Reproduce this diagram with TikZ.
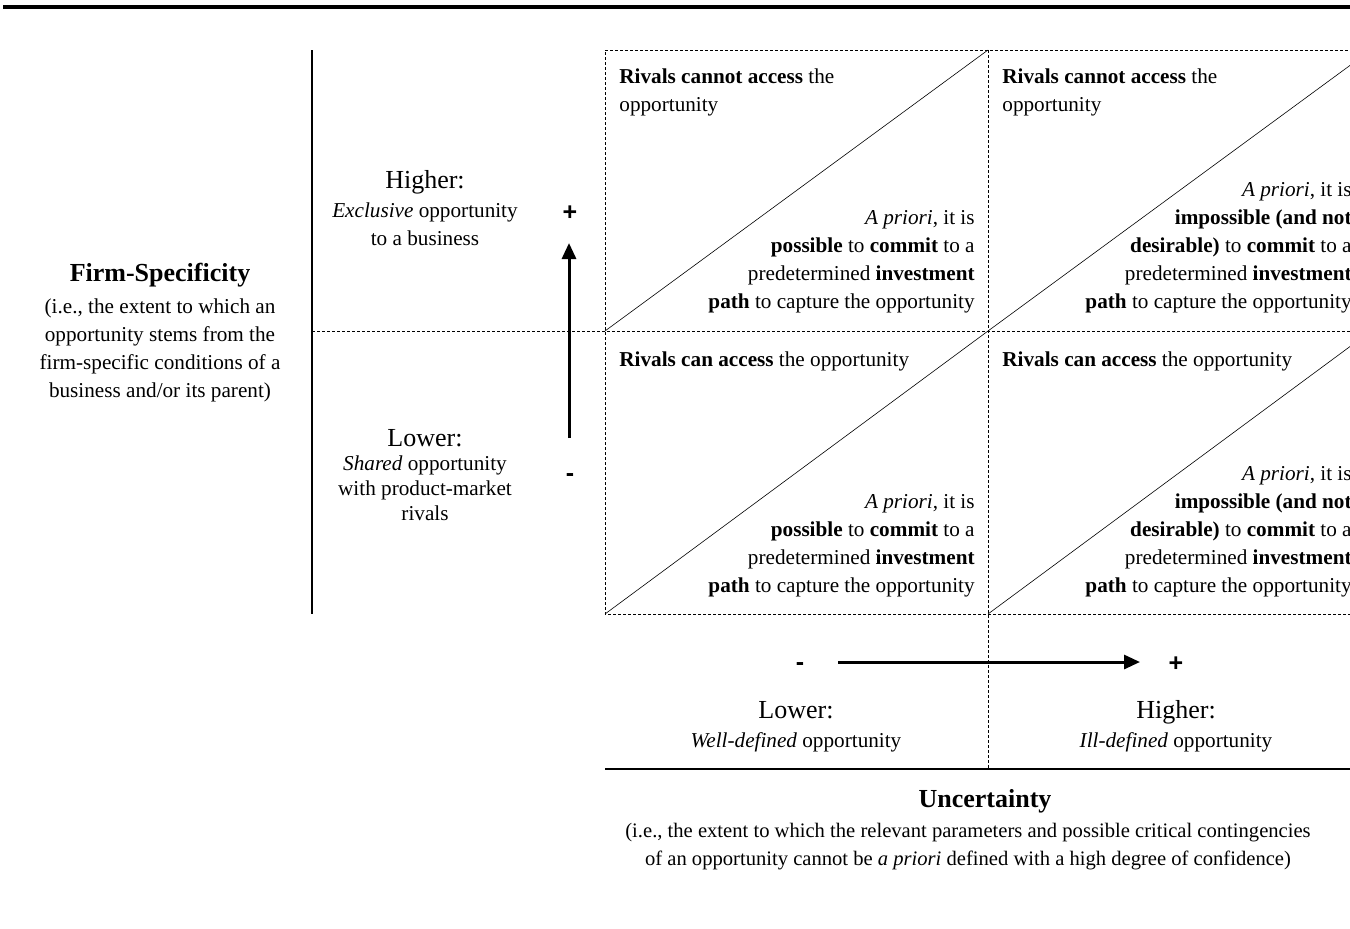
\documentclass[tikz,border=0pt]{standalone}
\usepackage{fontspec}
\setmainfont{Liberation Serif}
\newfontfamily\signfont{Liberation Sans}
\usetikzlibrary{arrows.meta}

\begin{document}
\begin{tikzpicture}[x=0.5pt,y=-0.5pt,
    cell/.style={inner sep=0,font=\fontsize{10.6}{14}\selectfont},
    level/.style={inner sep=0,font=\fontsize{13}{14}\selectfont},
    dimtitle/.style={inner sep=0,font=\bfseries\fontsize{13}{14}\selectfont},
    sign/.style={inner sep=0,anchor=base,font=\signfont\bfseries\fontsize{12.5}{13}\selectfont},
    grid/.style={line width=0.5pt,dash pattern=on 1.5pt off 1pt},
    diag/.style={line width=0.3pt},
    axis/.style={line width=1.5pt,-{Triangle[length=8pt,width=7pt]}}]
    \useasboundingbox (0,0) rectangle (1350,928);
    \clip (0,0) rectangle (1350,928);
    % frame lines
    \coordinate (rulel) at (3,7);
    \coordinate (ruler) at (1350,7);
    \coordinate (sidet) at (312,50);
    \coordinate (sideb) at (312,614);
    \coordinate (footl) at (605,769);
    \coordinate (footr) at (1350,769);
    \draw[line width=2pt] (rulel) -- (ruler);
    \draw[line width=1pt] (sidet) -- (sideb);
    \draw[line width=1.2pt] (footl) -- (footr);
    % grid
    \coordinate (gtl) at (605,50);
    \coordinate (gtm) at (988,50);
    \coordinate (gtr) at (1371,50);
    \coordinate (gml) at (605,331);
    \coordinate (gmm) at (988,331);
    \coordinate (gmr) at (1371,331);
    \coordinate (gbl) at (605,614);
    \coordinate (gbm) at (988,614);
    \coordinate (gbr) at (1371,614);
    \coordinate (gaxl) at (312,331);
    \coordinate (gfoot) at (988,768);
    \draw[grid] (gtl) -- (gtr) -- (gbr) -- (gbl) -- cycle;
    \draw[grid] (gaxl) -- (gmr);
    \draw[grid] (gtm) -- (gfoot);
    \draw[diag] (gml) -- (gtm);
    \draw[diag] (gmm) -- (gtr);
    \draw[diag] (gbl) -- (gmm);
    \draw[diag] (gbm) -- (gmr);
    % cells (multi-line nodes sit on their last baseline)
    \node[cell,anchor=base west,align=left] (ulrivals) at (619,111) {\textbf{Rivals cannot access} the\\opportunity};
    \node[cell,anchor=base east,align=right] (ulcommit) at (975,308) {\textit{A priori}, it is\\\textbf{possible} to \textbf{commit} to a\\predetermined \textbf{investment}\\\textbf{path} to capture the opportunity};
    \node[cell,anchor=base west,align=left] (urrivals) at (1002,111) {\textbf{Rivals cannot access} the\\opportunity};
    \node[cell,anchor=base east,align=right] (urcommit) at (1352,308) {\textit{A priori}, it is\\\textbf{impossible (and not}\\\textbf{desirable)} to \textbf{commit} to a\\predetermined \textbf{investment}\\\textbf{path} to capture the opportunity};
    \node[cell,anchor=base west] (llrivals) at (619,366) {\textbf{Rivals can access} the opportunity};
    \node[cell,anchor=base east,align=right] (llcommit) at (975,592) {\textit{A priori}, it is\\\textbf{possible} to \textbf{commit} to a\\predetermined \textbf{investment}\\\textbf{path} to capture the opportunity};
    \node[cell,anchor=base west] (lrrivals) at (1002,366) {\textbf{Rivals can access} the opportunity};
    \node[cell,anchor=base east,align=right] (lrcommit) at (1352,592) {\textit{A priori}, it is\\\textbf{impossible (and not}\\\textbf{desirable)} to \textbf{commit} to a\\predetermined \textbf{investment}\\\textbf{path} to capture the opportunity};
    % firm-specificity axis
    \node[dimtitle,anchor=base] (firm) at (160,281) {Firm-Specificity};
    \node[cell,anchor=base,align=center] (firmtxt) at (160,397) {(i.e., the extent to which an\\opportunity stems from the\\firm-specific conditions of a\\business and/or its parent)};
    \node[level,anchor=base] (hifirm) at (425,188) {Higher:};
    \node[cell,anchor=base,align=center] (hifirmtxt) at (425,245) {\textit{Exclusive} opportunity\\to a business};
    \node[level,anchor=base] (lofirm) at (425,446) {Lower:};
    \node[cell,anchor=base,align=center,font=\fontsize{10.6}{12.5}\selectfont] (lofirmtxt) at (425,520) {\textit{Shared} opportunity\\with product-market\\rivals};
    \node[sign] (fplus) at (570,220) {+};
    \node[sign] (fminus) at (570,481) {-};
    \coordinate (vfrom) at (569,438);
    \coordinate (vto) at (569,243);
    \draw[axis] (vfrom) -- (vto);
    % uncertainty axis
    \node[sign] (uminus) at (800,670) {-};
    \node[sign] (uplus) at (1176,671) {+};
    \coordinate (hfrom) at (838,662);
    \coordinate (hto) at (1140,662);
    \draw[axis] (hfrom) -- (hto);
    \node[level,anchor=base] (lounc) at (796,718) {Lower:};
    \node[cell,anchor=base] (lounctxt) at (796,747) {\textit{Well-defined} opportunity};
    \node[level,anchor=base] (hiunc) at (1176,718) {Higher:};
    \node[cell,anchor=base] (hiunctxt) at (1176,747) {\textit{Ill-defined} opportunity};
    \node[dimtitle,anchor=base] (unc) at (985,807) {Uncertainty};
    \node[cell,anchor=base,align=center,font=\fontsize{10.3}{14}\selectfont] (unctxt) at (968,865) {(i.e., the extent to which the relevant parameters and possible critical contingencies\\of an opportunity cannot be \textit{a priori} defined with a high degree of confidence)};
\end{tikzpicture}
\end{document}
